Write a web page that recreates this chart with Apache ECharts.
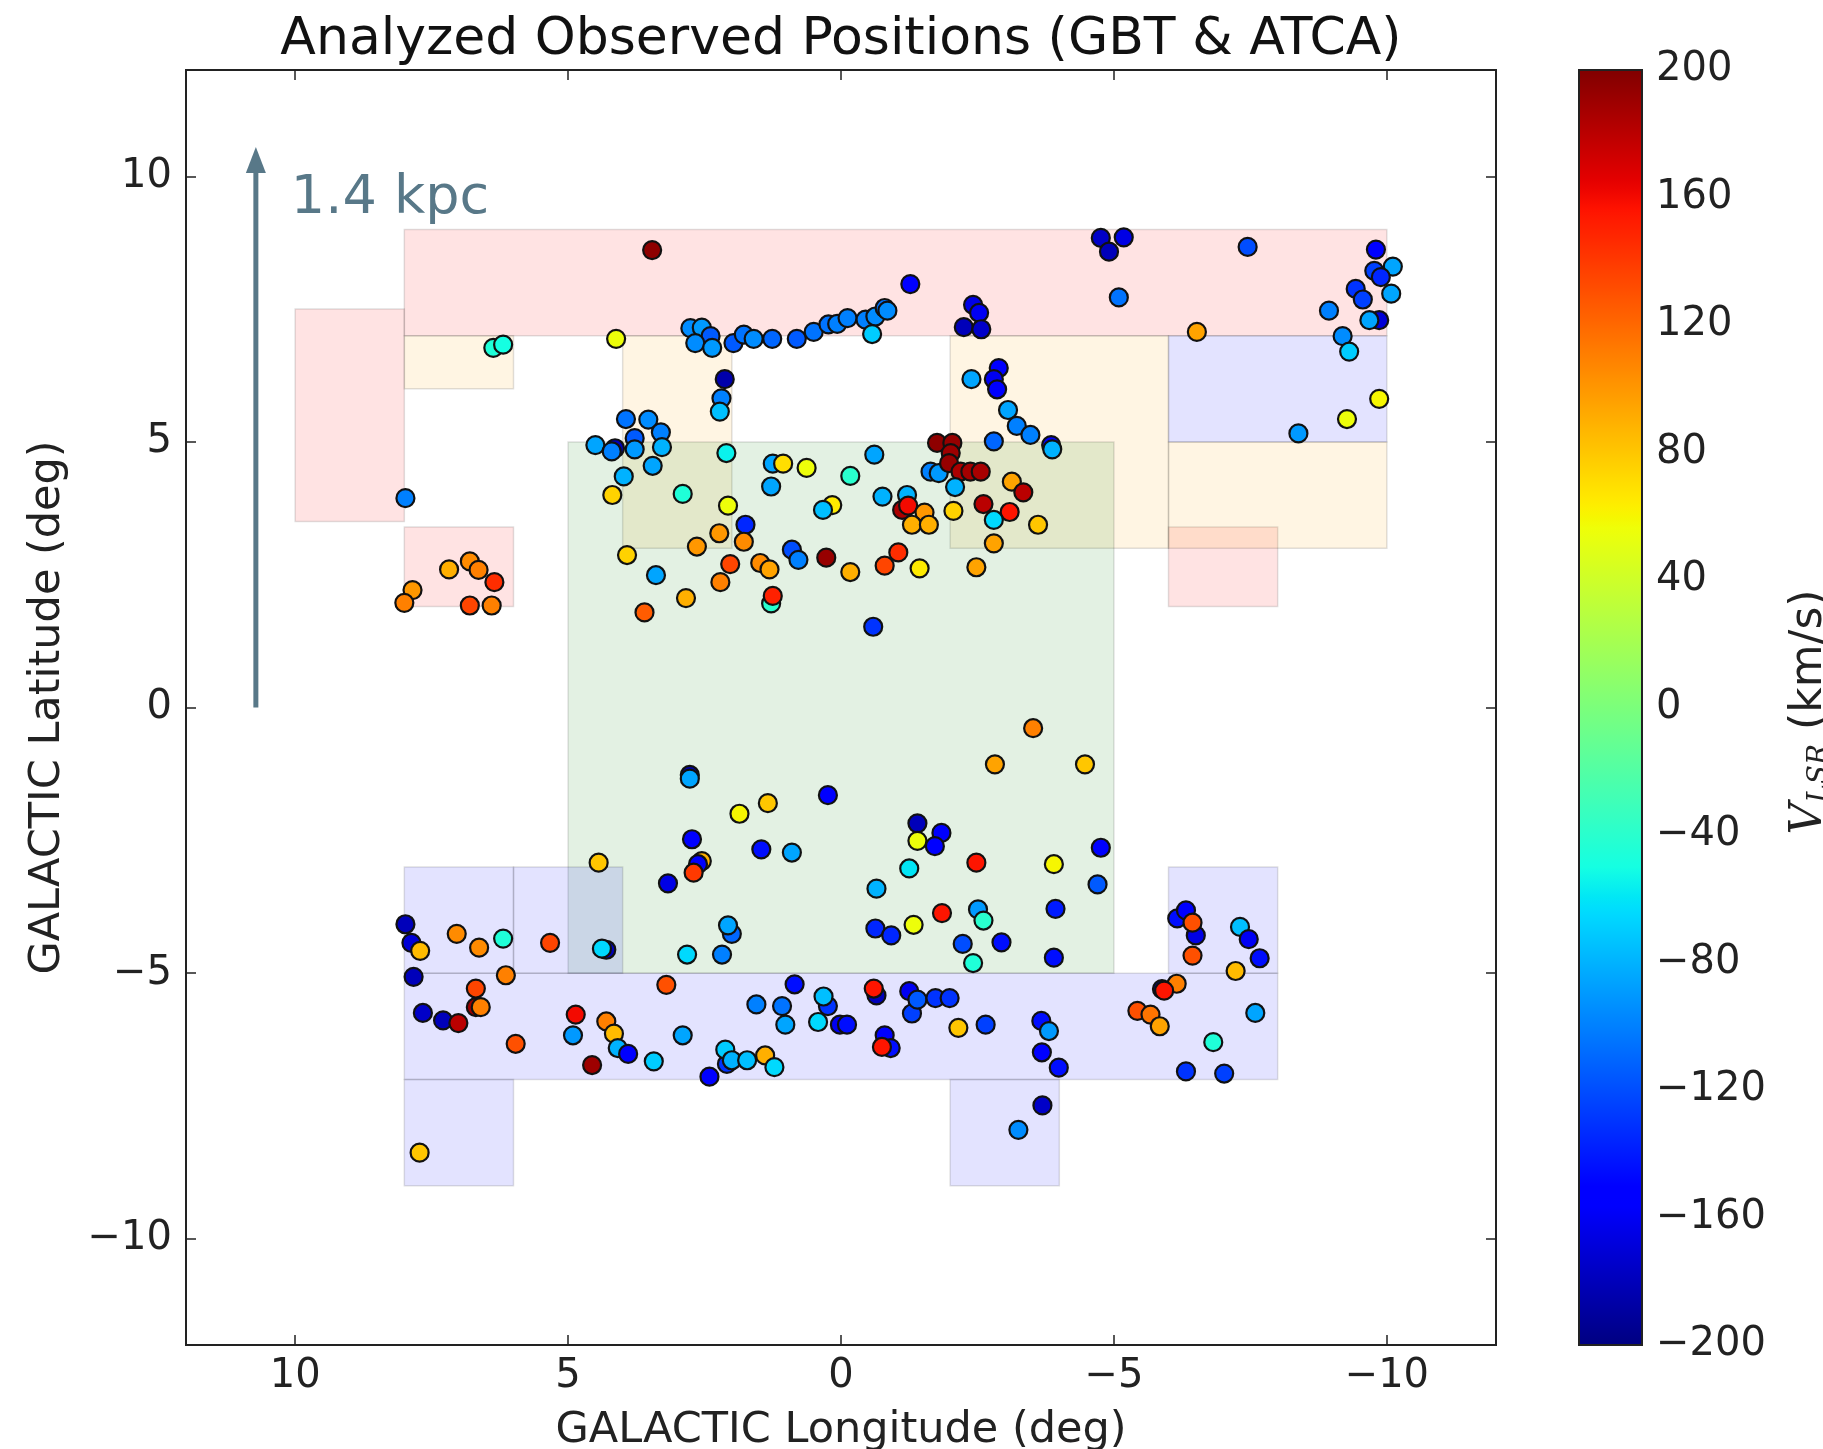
<!DOCTYPE html>
<html><head><meta charset="utf-8">
<script src="https://cdn.jsdelivr.net/npm/echarts@6/dist/echarts.min.js"></script>
<style>html,body{margin:0;padding:0;background:#fff}#c{width:1823px;height:1449px}</style>
</head><body><div id="c"></div>
<script>
// ---------------- data ----------------
const titleText = 'Analyzed Observed Positions (GBT & ATCA)';
const xTicks = [10, 5, 0, -5, -10];
const yTicks = [10, 5, 0, -5, -10];
const cbTicks = [-200, -160, -120, -80, -40, 0, 40, 80, 120, 160, 200];

// survey fields [lon1, lat1, lon2, lat2]
const redFields = [[10, 3.5, 8, 7.5], [8, 7, -10, 9], [8, 1.9, 6, 3.4], [-6, 1.9, -8, 3.4]];
const orangeFields = [[8, 6, 6, 7], [4, 3, 2, 7], [-2, 3, -6, 7], [-6, 3, -10, 5]];
const greenFields = [[5, -5, -5, 5]];
const blueFields = [[-6, 5, -10, 7], [8, -3, 6, -5], [6, -3, 4, -5], [8, -5, -8, -7], [8, -7, 6, -9], [-2, -7, -4, -9], [-6, -3, -8, -5]];

// observed positions [lon, lat, V_LSR]
const northBand = [
 [3.46,8.61,195],[6.37,6.77,-45],[6.19,6.83,-50],[4.12,6.94,55],
 [2.76,7.14,-95],[2.55,7.15,-90],[2.39,6.99,-115],[2.67,6.86,-95],[2.36,6.77,-90],[1.97,6.86,-115],
 [1.78,7.02,-105],[1.60,6.94,-95],[1.26,6.94,-110],[0.81,6.94,-115],[0.50,7.07,-105],[0.23,7.21,-105],
 [0.07,7.22,-100],[-0.12,7.33,-100],[-0.45,7.30,-100],[-0.63,7.36,-95],[-0.80,7.52,-105],[-0.85,7.47,-95],
 [-0.57,7.03,-70],[-1.27,7.97,-150],[-2.42,7.58,-165],[-2.53,7.43,-160],[-2.25,7.16,-180],[-2.57,7.12,-175],
 [-4.76,8.84,-175],[-5.18,8.85,-165],[-4.91,8.58,-180],[-7.45,8.67,-120],[-5.09,7.72,-105],[-6.52,7.07,95],
 [-9.80,8.62,-150],[-10.11,8.30,-85],[-9.77,8.22,-125],[-9.89,8.10,-135],[-9.43,7.88,-130],[-9.56,7.68,-125],
 [-10.08,7.79,-85],[-8.94,7.47,-100],[-9.86,7.29,-170],[-9.68,7.29,-85],[-9.19,6.99,-95],[-9.31,6.70,-70],
 [-9.86,5.81,60],[-9.27,5.43,55],[-8.38,5.16,-90]
];
const northField = [
 [2.13,6.18,-185],[2.19,5.82,-100],[2.22,5.57,-75],[3.94,5.43,-105],[3.53,5.42,-95],[3.30,5.18,-100],
 [3.78,5.07,-115],[4.50,4.94,-85],[4.14,4.88,-180],[4.20,4.82,-100],[3.78,4.86,-90],[3.28,4.90,-80],
 [3.45,4.55,-85],[3.98,4.35,-80],[4.19,4.00,75],[2.90,4.02,-45],[2.10,4.79,-55],[2.07,3.80,55],
 [1.75,3.44,-135],[2.23,3.28,100],[1.78,3.12,105],[2.64,3.03,100],[3.92,2.87,75],[2.03,2.70,135],
 [3.39,2.49,-85],[2.21,2.36,110],[2.84,2.06,90],[3.60,1.79,125],[7.98,3.94,-100],[7.18,2.60,90],
 [6.80,2.75,105],[6.64,2.59,110],[6.35,2.36,145],[7.85,2.21,100],[8.00,1.97,110],[6.80,1.92,135],
 [6.40,1.92,110],[-2.39,6.18,-85],[-2.89,6.39,-155],[-2.80,6.18,-160],[-2.86,5.99,-150],[-3.06,5.60,-85],
 [-3.22,5.30,-100],[-3.47,5.13,-100],[-3.85,4.94,-160],[-3.87,4.86,-80],[-2.80,5.01,-110],
 [-1.64,4.44,-100],[-1.79,4.41,-90],[-1.76,4.98,195],[-2.04,4.98,192],[-2.01,4.79,190],[-1.98,4.60,192],
 [-2.19,4.44,185],[-2.37,4.44,188],[-2.56,4.44,186],[-2.09,4.15,-80],[-0.61,4.76,-85],[1.25,4.59,-85],
 [1.06,4.59,70],[0.63,4.51,55],[-0.17,4.36,-40],[1.28,4.16,-85],[0.16,3.81,65],[0.33,3.72,-75],
 [-0.76,3.97,-80],[-1.21,4.00,-80],[-1.12,3.72,185],[-1.23,3.80,160],[-1.53,3.67,100],[-1.30,3.44,90],
 [-1.61,3.44,90],[-2.06,3.70,75],[-2.61,3.83,180],[-3.13,4.25,95],[-3.34,4.05,180],[-3.09,3.68,155],
 [-2.80,3.53,-65],[-3.61,3.44,80],[-2.80,3.09,95],[0.90,2.97,-120],[0.78,2.78,-100],[1.48,2.72,105],
 [1.31,2.60,95],[0.27,2.82,192],[-0.17,2.55,90],[-0.80,2.67,135],[-1.05,2.92,145],[-1.44,2.62,65],
 [-2.48,2.64,95],[1.28,1.96,-40],[1.25,2.10,150],[-0.59,1.52,-130]
];
const southField = [
 [2.77,-1.27,-185],[2.77,-1.34,-85],[1.86,-2.00,60],[1.34,-1.80,80],[0.24,-1.65,-150],[2.73,-2.48,-150],
 [1.46,-2.67,-145],[0.90,-2.73,-85],[2.55,-2.89,90],[2.62,-2.95,-150],[2.70,-3.11,140],[3.17,-3.31,-165],
 [4.44,-2.92,80],[-3.52,-0.39,110],[-2.82,-1.07,95],[-4.47,-1.07,80],[-1.40,-2.18,-180],[-1.84,-2.36,-155],
 [-1.40,-2.51,55],[-1.72,-2.61,-150],[-1.25,-3.03,-60],[-0.65,-3.41,-80],[-2.48,-2.92,155],[-3.90,-2.95,60],
 [-4.76,-2.64,-150],[-4.70,-3.33,-115],[2.00,-4.26,-110],[2.07,-4.10,-85],[2.82,-4.65,-65],[2.18,-4.65,-100],
 [-1.85,-3.87,155],[-1.33,-4.09,55],[-0.63,-4.16,-135],[-0.92,-4.29,-135],[-2.51,-3.80,-90],[-2.61,-4.01,-40],
 [-2.23,-4.45,-120],[-2.94,-4.42,-145],[-2.42,-4.81,-45],[-3.93,-3.79,-140],[-3.90,-4.71,-145],
 [7.98,-4.08,-180],[7.87,-4.43,-170],[7.71,-4.58,85],[7.04,-4.26,105],[6.63,-4.52,105],[6.19,-4.35,-45],
 [5.33,-4.43,135],[4.30,-4.56,-180],[4.38,-4.54,-65],[-6.16,-3.97,-145],[-6.32,-3.82,-150],[-6.50,-4.29,-165],
 [-6.44,-4.05,130],[-6.44,-4.67,130],[-7.31,-4.13,-75],[-7.47,-4.36,-160],[-7.67,-4.72,-145],[-7.23,-4.96,85]
];
const southBand = [
 [7.83,-5.07,-180],[6.14,-5.04,110],[6.69,-5.29,135],[6.69,-5.64,190],[6.60,-5.64,110],[7.66,-5.75,-175],
 [7.29,-5.89,-180],[7.01,-5.94,180],[5.96,-6.33,130],[4.86,-5.78,160],[4.91,-6.17,-90],[4.30,-5.91,110],
 [4.16,-6.14,85],[4.09,-6.41,-80],[3.90,-6.52,-150],[4.56,-6.73,190],[3.43,-6.66,-70],[3.20,-5.22,130],
 [2.90,-6.17,-85],[2.41,-6.95,-150],[2.09,-6.71,-130],[2.12,-6.44,-70],[2.00,-6.64,-80],[1.72,-6.64,-75],
 [1.39,-6.55,90],[1.22,-6.77,-65],[7.72,-8.38,80],[0.85,-5.21,-145],[1.55,-5.59,-100],[1.08,-5.62,-105],
 [1.02,-5.97,-85],[0.24,-5.62,-130],[0.32,-5.44,-75],[0.42,-5.92,-65],[0.02,-5.97,-160],[-0.11,-5.97,-145],
 [-0.65,-5.42,-180],[-0.60,-5.29,155],[-0.80,-6.17,-155],[-0.91,-6.41,-145],[-0.75,-6.39,155],[-1.25,-5.34,-160],
 [-1.30,-5.76,-125],[-1.40,-5.50,-115],[-1.73,-5.47,-130],[-1.99,-5.47,-130],[-2.15,-6.03,80],[-2.65,-5.97,-125],
 [-3.67,-5.90,-145],[-3.81,-6.09,-90],[-3.68,-6.49,-150],[-3.99,-6.78,-145],[-3.69,-7.49,-175],[-3.25,-7.95,-95],
 [-6.15,-5.20,110],[-5.88,-5.30,-190],[-5.92,-5.33,155],[-5.43,-5.71,130],[-5.67,-5.78,115],[-5.84,-6.00,95],
 [-7.59,-5.75,-85],[-6.82,-6.30,-45],[-6.32,-6.85,-130],[-7.02,-6.89,-125]
];
// scale arrow: [lon, lat start, lat end]
const scaleArrow = [[10.72, 0, 10.55]];
const scaleLabel = '1.4 kpc';

// ---------------- styling helpers ----------------
const FONT = "'DejaVu Sans', 'Liberation Sans', sans-serif";
const seg = {
  r: [[0,0],[0.35,0],[0.66,1],[0.89,1],[1,0.5]],
  g: [[0,0],[0.125,0],[0.375,1],[0.64,1],[0.91,0],[1,0]],
  b: [[0,0.5],[0.11,1],[0.34,1],[0.65,0],[1,0]]
};
function interp(pts, t) {
  for (let i = 1; i < pts.length; i++) {
    if (t <= pts[i][0]) { const [x0,y0] = pts[i-1], [x1,y1] = pts[i]; return y0 + (y1-y0)*(t-x0)/(x1-x0); }
  }
  return pts[pts.length-1][1];
}
function jet(t) { const c = k => Math.round(255*interp(seg[k], t)); return `rgb(${c('r')},${c('g')},${c('b')})`; }
const jetColors = []; for (let i = 0; i <= 128; i++) jetColors.push(jet(i/128));
const jetStops = jetColors.map((c, i) => ({offset: 1 - i/128, color: c}));
const minus = v => (v < 0 ? '\u2212' : '') + Math.abs(v);

function rectSeries(data, fill) {
  return {
    type: 'custom', xAxisIndex: 0, yAxisIndex: 0, z: 1, silent: true,
    data: data, encode: {x: [0, 2], y: [1, 3]},
    renderItem: (params, api) => {
      const p1 = api.coord([api.value(0), api.value(1)]);
      const p2 = api.coord([api.value(2), api.value(3)]);
      return {type: 'rect', shape: {x: Math.min(p1[0],p2[0]), y: Math.min(p1[1],p2[1]),
        width: Math.abs(p2[0]-p1[0]), height: Math.abs(p2[1]-p1[1])},
        style: {fill: fill, stroke: 'rgba(0,0,0,0.12)', lineWidth: 1.5}};
    }
  };
}
function scatterSeries(data) {
  return {type: 'scatter', xAxisIndex: 0, yAxisIndex: 0, z: 3, data: data, symbolSize: 18,
    encode: {x: 0, y: 1}, itemStyle: {borderColor: '#111', borderWidth: 2.2, opacity: 1}};
}

const chart = echarts.init(document.getElementById('c'));
const tickStyle = {inside: true, length: 10, lineStyle: {color: '#222', width: 1.5}};
const baseAxis = {
  type: 'value', min: -12, max: 12, splitLine: {show: false}, axisLine: {show: false, onZero: false}
};
chart.setOption({
  backgroundColor: '#fff',
  animation: false,
  grid: [
    {left: 186, top: 70, width: 1310, height: 1275, outerBoundsMode: 'none', containLabel: false,
     show: true, borderColor: '#222', borderWidth: 2, backgroundColor: '#fff'},
    {left: 1579, top: 70, width: 63, height: 1275, outerBoundsMode: 'none', containLabel: false}
  ],
  xAxis: [
    Object.assign({}, baseAxis, {gridIndex: 0, inverse: true, position: 'bottom',
      axisTick: Object.assign({customValues: xTicks}, tickStyle),
      axisLabel: {customValues: xTicks, formatter: minus, fontFamily: FONT, fontSize: 40, color: '#222', margin: 12},
      name: 'GALACTIC Longitude (deg)', nameLocation: 'middle', nameGap: 64,
      nameTextStyle: {fontFamily: FONT, fontSize: 43, color: '#222'}}),
    Object.assign({}, baseAxis, {gridIndex: 0, inverse: true, position: 'top',
      axisTick: Object.assign({customValues: xTicks}, tickStyle),
      axisLabel: {show: false}}),
    {gridIndex: 1, type: 'value', min: 0, max: 1, show: false}
  ],
  yAxis: [
    Object.assign({}, baseAxis, {gridIndex: 0, position: 'left',
      axisTick: Object.assign({customValues: yTicks}, tickStyle),
      axisLabel: {customValues: yTicks, formatter: minus, fontFamily: FONT, fontSize: 40, color: '#222', margin: 14},
      name: 'GALACTIC Latitude (deg)', nameLocation: 'middle', nameGap: 117,
      nameTextStyle: {fontFamily: FONT, fontSize: 43, color: '#222'}}),
    Object.assign({}, baseAxis, {gridIndex: 0, position: 'right',
      axisTick: Object.assign({customValues: yTicks}, tickStyle),
      axisLabel: {show: false}}),
    {gridIndex: 1, type: 'value', min: -200, max: 200, interval: 40, position: 'right',
      splitLine: {show: false}, axisLine: {show: false, onZero: false},
      axisTick: {show: true, inside: true, length: 10, customValues: cbTicks, lineStyle: {color: '#222', width: 1.5}},
      axisLabel: {customValues: cbTicks, formatter: minus, fontFamily: FONT, fontSize: 40, color: '#222', margin: 14}}
  ],
  visualMap: {
    type: 'continuous', show: false, min: -200, max: 200, dimension: 2,
    seriesIndex: [4, 5, 6, 7], inRange: {color: jetColors}
  },
  graphic: [
    {type: 'text', x: 841, y: 40, style: {text: titleText, font: `52px ${FONT}`, fill: '#111', textAlign: 'center', textVerticalAlign: 'middle'}},
    {type: 'text', x: 1810, y: 712, rotation: Math.PI/2,
      style: {text: '{v|V}{s|LSR} (km/s)', textAlign: 'center', textVerticalAlign: 'middle',
        rich: {v: {font: `italic 44px 'DejaVu Serif', serif`, fill: '#222'},
               s: {font: `italic 28px 'DejaVu Serif', serif`, fill: '#222', padding: [19, 0, 0, 0]}},
        font: `44px ${FONT}`, fill: '#222'}}
  ],
  series: [
    rectSeries(redFields, 'rgba(255,0,0,0.11)'),
    rectSeries(orangeFields, 'rgba(255,165,0,0.11)'),
    rectSeries(greenFields, 'rgba(0,128,0,0.11)'),
    rectSeries(blueFields, 'rgba(0,0,255,0.11)'),
    scatterSeries(northBand),
    scatterSeries(northField),
    scatterSeries(southField),
    scatterSeries(southBand),
    {
      type: 'custom', xAxisIndex: 0, yAxisIndex: 0, z: 4, silent: true, data: scaleArrow,
      encode: {x: 0, y: [1, 2]},
      renderItem: (params, api) => {
        const a = api.coord([api.value(0), api.value(1)]);
        const b = api.coord([api.value(0), api.value(2)]);
        const col = '#587888';
        return {type: 'group', children: [
          {type: 'line', shape: {x1: a[0], y1: a[1], x2: b[0], y2: b[1] + 20}, style: {stroke: col, lineWidth: 5}},
          {type: 'polygon', shape: {points: [[b[0], b[1]], [b[0]-10, b[1]+26], [b[0]+10, b[1]+26]]}, style: {fill: col}},
          {type: 'text', x: b[0] + 35, y: b[1] + 52, style: {text: scaleLabel, font: `54px ${FONT}`, fill: col, textVerticalAlign: 'middle'}}
        ]};
      }
    },
    {
      type: 'custom', xAxisIndex: 2, yAxisIndex: 2, z: 2, silent: true, data: [[0, -200, 1, 200]],
      encode: {x: [0, 2], y: [1, 3]},
      renderItem: (params, api) => {
        const p1 = api.coord([api.value(0), api.value(1)]);
        const p2 = api.coord([api.value(2), api.value(3)]);
        return {type: 'rect', shape: {x: p1[0], y: p2[1], width: p2[0]-p1[0], height: p1[1]-p2[1]},
          style: {fill: {type: 'linear', x: 0, y: 0, x2: 0, y2: 1, colorStops: jetStops}, stroke: '#222', lineWidth: 2}};
      }
    }
  ]
});
</script></body></html>
